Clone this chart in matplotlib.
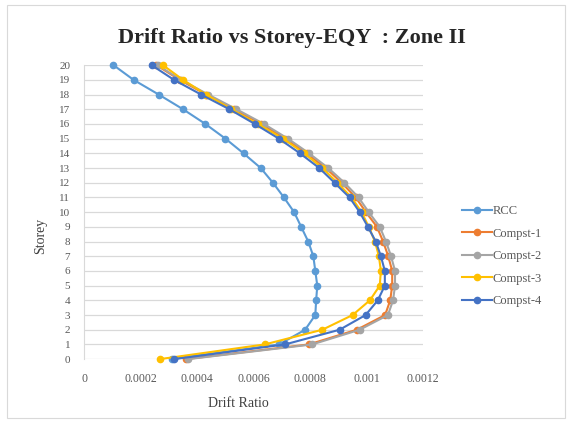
import matplotlib.pyplot as plt
from matplotlib.patches import Rectangle

# Storey numbers and drift ratios per model (storey 0 .. 20)
storeys = list(range(21))

rcc = [0.00031, 0.00069, 0.000782, 0.000818, 0.000821, 0.000825, 0.000818,
       0.000811, 0.000793, 0.000768, 0.000743, 0.000707, 0.000668, 0.000625,
       0.000564, 0.000500, 0.000429, 0.000350, 0.000264, 0.000175, 0.000104]

compst_1 = [0.000360, 0.000795, 0.000965, 0.001065, 0.001083, 0.001090, 0.001090,
            0.001076, 0.001058, 0.001036, 0.000997, 0.000961, 0.000911, 0.000855,
            0.000787, 0.000712, 0.000627, 0.000531, 0.000432, 0.000338, 0.000256]

compst_2 = [0.000368, 0.000807, 0.000975, 0.001075, 0.001093, 0.001100, 0.001100,
            0.001086, 0.001068, 0.001046, 0.001007, 0.000971, 0.000921, 0.000864,
            0.000796, 0.000721, 0.000636, 0.000539, 0.000439, 0.000343, 0.000260]

compst_3 = [0.000268, 0.000639, 0.000843, 0.000950, 0.001011, 0.001046, 0.001050,
            0.001043, 0.001029, 0.001007, 0.000982, 0.000946, 0.000896, 0.000843,
            0.000779, 0.000704, 0.000614, 0.000521, 0.000432, 0.000350, 0.000279]

compst_4 = [0.000318, 0.000711, 0.000904, 0.000996, 0.001039, 0.001064, 0.001064,
            0.001050, 0.001032, 0.001004, 0.000975, 0.000939, 0.000886, 0.000832,
            0.000764, 0.000689, 0.000604, 0.000514, 0.000414, 0.000318, 0.000239]

series = [
    ('RCC', rcc, '#5B9BD5'),
    ('Compst-1', compst_1, '#ED7D31'),
    ('Compst-2', compst_2, '#A5A5A5'),
    ('Compst-3', compst_3, '#FFC000'),
    ('Compst-4', compst_4, '#4472C4'),
]

x_ticks = [0, 0.0002, 0.0004, 0.0006, 0.0008, 0.001, 0.0012]
x_tick_labels = ['0', '0.0002', '0.0004', '0.0006', '0.0008', '0.001', '0.0012']

plt.rcParams['font.family'] = ['Liberation Serif', 'DejaVu Serif']

fig = plt.figure(figsize=(5.72, 4.23), dpi=100)
ax = fig.add_axes([0.147, 0.151, 0.593, 0.695])

for nome, valores, cor in series:
    ax.plot(valores, storeys, '-o', color=cor, label=nome, linewidth=1.5,
            markersize=4.5, clip_on=False, zorder=3)

ax.set_xlim(0, 0.0012)
ax.set_ylim(0, 20)
ax.set_xticks(x_ticks)
ax.set_xticklabels(x_tick_labels)
ax.set_yticks(storeys)

# Estilo: apenas grade horizontal, eixos discretos
ax.grid(axis='y', color='#D9D9D9', linewidth=0.9)
ax.grid(axis='x', visible=False)
ax.set_axisbelow(True)
for lado in ['top', 'right', 'bottom']:
    ax.spines[lado].set_visible(False)
ax.spines['left'].set_color('#D9D9D9')
ax.tick_params(axis='both', length=0, labelsize=8.5, labelcolor='#595959')
ax.tick_params(axis='y', labelsize=8, pad=10)
ax.tick_params(axis='x', pad=10)

ax.set_xlabel('Drift Ratio', fontsize=10, color='#404040')
ax.xaxis.set_label_coords(0.455, -0.13)
ax.set_ylabel('Storey', fontsize=10, color='#404040')
ax.yaxis.set_label_coords(-0.11, 0.42)

fig.text(0.51, 0.91, 'Drift Ratio vs Storey-EQY  : Zone II', ha='center',
         va='center', fontsize=16, fontweight='bold', color='#262626')

ax.legend(loc='center left', bbox_to_anchor=(1.08, 0.35), frameon=False,
          fontsize=9, labelcolor='#595959', handlelength=2.4,
          handletextpad=0.1, labelspacing=0.85)

# Moldura do gráfico
fig.patches.append(Rectangle((0.012, 0.012), 0.976, 0.976, transform=fig.transFigure,
                             fill=False, edgecolor='#D9D9D9', linewidth=0.8))

fig.savefig('out.png', dpi=100)
